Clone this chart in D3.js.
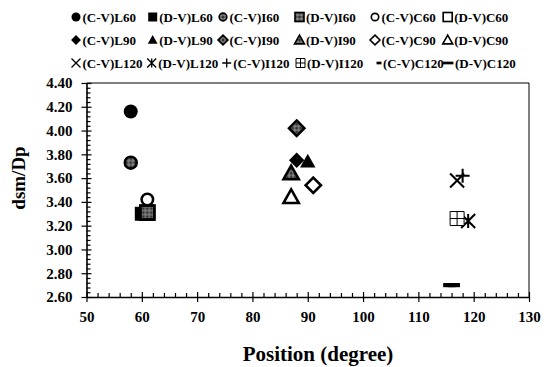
<!DOCTYPE html>
<html>
<head>
<meta charset="utf-8">
<script src="https://cdn.jsdelivr.net/npm/d3@7"></script>
<style>
  body { margin: 0; background: #fff; }
  svg text { font-family: "Liberation Serif", "Times New Roman", serif; font-weight: bold; fill: #000; }
</style>
</head>
<body>
<div id="chart"></div>
<script>
/**
 * DATA
 * */
const seriesNames = [
  "(C-V)L60", "(D-V)L60", "(C-V)I60", "(D-V)I60", "(C-V)C60", "(D-V)C60",
  "(C-V)L90", "(D-V)L90", "(C-V)I90", "(D-V)I90", "(C-V)C90", "(D-V)C90",
  "(C-V)L120", "(D-V)L120", "(C-V)I120", "(D-V)I120", "(C-V)C120", "(D-V)C120"
];
const positions = [58, 60, 58, 61, 61, 61, 88, 90, 88, 87, 91, 87, 117, 119, 118, 117, 116, 116];
const ratios = [4.16, 3.30, 3.73, 3.31, 3.42, 3.31, 3.75, 3.74, 4.02, 3.64, 3.54, 3.44, 3.58, 3.24, 3.62, 3.26, 2.70, 2.70];

const xTicks = [50, 60, 70, 80, 90, 100, 110, 120, 130];
const yTicks = [2.6, 2.8, 3.0, 3.2, 3.4, 3.6, 3.8, 4.0, 4.2, 4.4];

// marker shape for each series (same order as seriesNames)
const markerKinds = [
  "circleFill", "squareFill", "circlePat", "squarePat", "circleOpen", "squareOpen",
  "diamondFill", "triFill", "diamondPat", "triPat", "diamondOpen", "triOpen",
  "cross", "star", "plus", "gridSquare", "dashShort", "dashLong"
];

/**
 * CONSTANTS
 * */
const width = 546, height = 367,
  margin = { top: 83, bottom: 70, left: 86.5, right: 17 };

const svg = d3.select("#chart").append("svg")
  .attr("width", width).attr("height", height);

// hatch pattern for the "I" markers
const pat = svg.append("defs").append("pattern")
  .attr("id", "hatch").attr("patternUnits", "userSpaceOnUse")
  .attr("width", 4).attr("height", 4);
pat.append("rect").attr("width", 4).attr("height", 4).attr("fill", "#333");
pat.append("path").attr("d", "M2,0V4M0,2H4").attr("stroke", "#999").attr("stroke-width", 1);

const x = d3.scaleLinear().domain([50, 130]).range([margin.left, width - margin.right]);
const y = d3.scaleLinear().domain([2.6, 4.4]).range([height - margin.bottom, margin.top]);

// frame (top and right)
svg.append("path")
  .attr("d", `M${x(50)},${y(4.4)}H${x(130)}V${y(2.6)}`)
  .attr("fill", "none").attr("stroke", "#000").attr("stroke-width", 1);

// minor ticks (inside)
const xMinor = d3.range(50, 131, 2).filter(v => v % 10 !== 0);
const yMinor = d3.range(2.6, 4.41, 0.04).filter(v => Math.abs(v * 5 - Math.round(v * 5)) > 0.01);

svg.append("g").attr("transform", `translate(0,${y(2.6)})`)
  .call(d3.axisBottom(x).tickValues(xMinor).tickSize(-4).tickSizeOuter(0).tickFormat(""))
  .call(g => g.select(".domain").remove());
svg.append("g").attr("transform", `translate(${x(50)},0)`)
  .call(d3.axisLeft(y).tickValues(yMinor).tickSize(-4).tickSizeOuter(0).tickFormat(""))
  .call(g => g.select(".domain").remove());

// major ticks cross the axis: inner half
svg.append("g").attr("transform", `translate(0,${y(2.6)})`)
  .call(d3.axisBottom(x).tickValues(xTicks).tickSize(-5).tickSizeOuter(0).tickFormat(""))
  .call(g => g.select(".domain").remove());
svg.append("g").attr("transform", `translate(${x(50)},0)`)
  .call(d3.axisLeft(y).tickValues(yTicks).tickSize(-5).tickSizeOuter(0).tickFormat(""))
  .call(g => g.select(".domain").remove());

// main axes with labels
const xAxis = svg.append("g").attr("transform", `translate(0,${y(2.6)})`)
  .call(d3.axisBottom(x).tickValues(xTicks).tickSize(5).tickSizeOuter(0).tickPadding(9));
const yAxis = svg.append("g").attr("transform", `translate(${x(50)},0)`)
  .call(d3.axisLeft(y).tickValues(yTicks).tickSize(5).tickSizeOuter(0).tickPadding(9)
    .tickFormat(d3.format(".2f")));

svg.selectAll(".tick line").attr("stroke", "#000").attr("stroke-width", 1.2);
[xAxis, yAxis].forEach(a => {
  a.attr("font-family", "Liberation Serif").attr("font-weight", "bold").attr("font-size", 15);
  a.select(".domain").attr("stroke", "#000").attr("stroke-width", 1.6);
  a.selectAll("text").attr("font-weight", "bold").attr("fill", "#000");
});

// axis titles
svg.append("text")
  .attr("x", 318).attr("y", 361)
  .attr("text-anchor", "middle").attr("font-size", 21)
  .text("Position (degree)");
svg.append("text")
  .attr("transform", "translate(25,178) rotate(-90)")
  .attr("text-anchor", "middle").attr("font-size", 19)
  .text("dsm/Dp");

/**
 * MARKERS
 * */
function drawMarker(g, kind, s) {
  const h = s / 2;
  const sw = Math.max(1.5, s / 5.5);
  const tri = `M0,${-h * 1.1}L${h * 1.1},${h * 0.85}L${-h * 1.1},${h * 0.85}Z`;
  const dia = `M0,${-h * 1.1}L${h * 1.1},0L0,${h * 1.1}L${-h * 1.1},0Z`;
  switch (kind) {
    case "circleFill":
      g.append("circle").attr("r", h).attr("fill", "#000"); break;
    case "squareFill":
      g.append("rect").attr("x", -h).attr("y", -h).attr("width", s).attr("height", s).attr("fill", "#000"); break;
    case "circlePat":
      g.append("circle").attr("r", h * 0.85).attr("fill", "url(#hatch)").attr("stroke", "#000").attr("stroke-width", sw); break;
    case "squarePat":
      g.append("rect").attr("x", -h).attr("y", -h).attr("width", s).attr("height", s)
        .attr("fill", "url(#hatch)").attr("stroke", "#000").attr("stroke-width", sw); break;
    case "circleOpen":
      g.append("circle").attr("r", h * 0.82).attr("fill", "none").attr("stroke", "#000").attr("stroke-width", sw); break;
    case "squareOpen":
      g.append("rect").attr("x", -h).attr("y", -h).attr("width", s).attr("height", s)
        .attr("fill", "none").attr("stroke", "#000").attr("stroke-width", sw); break;
    case "diamondFill":
      g.append("path").attr("d", dia).attr("fill", "#000"); break;
    case "triFill":
      g.append("path").attr("d", tri).attr("fill", "#000"); break;
    case "diamondPat":
      g.append("path").attr("d", dia).attr("fill", "url(#hatch)").attr("stroke", "#000").attr("stroke-width", sw); break;
    case "triPat":
      g.append("path").attr("d", tri).attr("fill", "url(#hatch)").attr("stroke", "#000").attr("stroke-width", sw); break;
    case "diamondOpen":
      g.append("path").attr("d", dia).attr("fill", "none").attr("stroke", "#000").attr("stroke-width", sw); break;
    case "triOpen":
      g.append("path").attr("d", tri).attr("fill", "none").attr("stroke", "#000").attr("stroke-width", sw); break;
    case "cross":
      g.append("path").attr("d", `M${-h},${-h}L${h},${h}M${h},${-h}L${-h},${h}`)
        .attr("stroke", "#000").attr("stroke-width", sw * 0.8); break;
    case "star":
      g.append("path").attr("d", `M${-h},${-h}L${h},${h}M${h},${-h}L${-h},${h}M0,${-h}V${h}`)
        .attr("stroke", "#000").attr("stroke-width", sw * 0.8); break;
    case "plus":
      g.append("path").attr("d", `M${-h},0H${h}M0,${-h}V${h}`)
        .attr("stroke", "#000").attr("stroke-width", sw * 0.8); break;
    case "gridSquare":
      g.append("path").attr("d", `M${-h},${-h}H${h}V${h}H${-h}ZM0,${-h}V${h}M${-h},0H${h}`)
        .attr("fill", "#fff").attr("stroke", "#000").attr("stroke-width", 1); break;
    case "dashShort":
      g.append("rect").attr("x", -h * 0.55).attr("y", -s * 0.15).attr("width", h * 1.1).attr("height", s * 0.3).attr("fill", "#000"); break;
    case "dashLong":
      g.append("rect").attr("x", -h * 1.2).attr("y", -s * 0.15).attr("width", s * 1.2).attr("height", s * 0.3).attr("fill", "#000"); break;
  }
}

// plot points
const points = seriesNames.map((name, i) => ({ name, kind: markerKinds[i], x: positions[i], y: ratios[i] }));

svg.append("g").selectAll("g.pt")
  .data(points)
  .join("g")
  .attr("class", "pt")
  .attr("transform", d => `translate(${x(d.x)},${y(d.y)})`)
  .each(function (d) { drawMarker(d3.select(this), d.kind, 14); });

/**
 * LEGEND
 * */
const legendRows = [17, 40, 63];
const legendCols = [
  [76, 152.7, 223, 299.5, 375, 447.7],
  [76, 152.7, 223, 299.5, 375, 447.7],
  [76, 151.7, 226.7, 300.5, 379, 448]
];

const legend = svg.append("g").selectAll("g.leg")
  .data(points)
  .join("g")
  .attr("class", "leg")
  .attr("transform", (d, i) => `translate(${legendCols[Math.floor(i / 6)][i % 6]},${legendRows[Math.floor(i / 6)]})`);

legend.each(function (d) { drawMarker(d3.select(this), d.kind, 9); });
legend.append("text")
  .attr("x", d => d.kind === "dashLong" ? 7 : (d.kind === "dashShort" ? 4 : 6.5))
  .attr("y", 4.5)
  .attr("font-size", 13)
  .attr("textLength", d => d.name.length > 8 ? null : null)
  .text(d => d.name);
</script>
</body>
</html>
